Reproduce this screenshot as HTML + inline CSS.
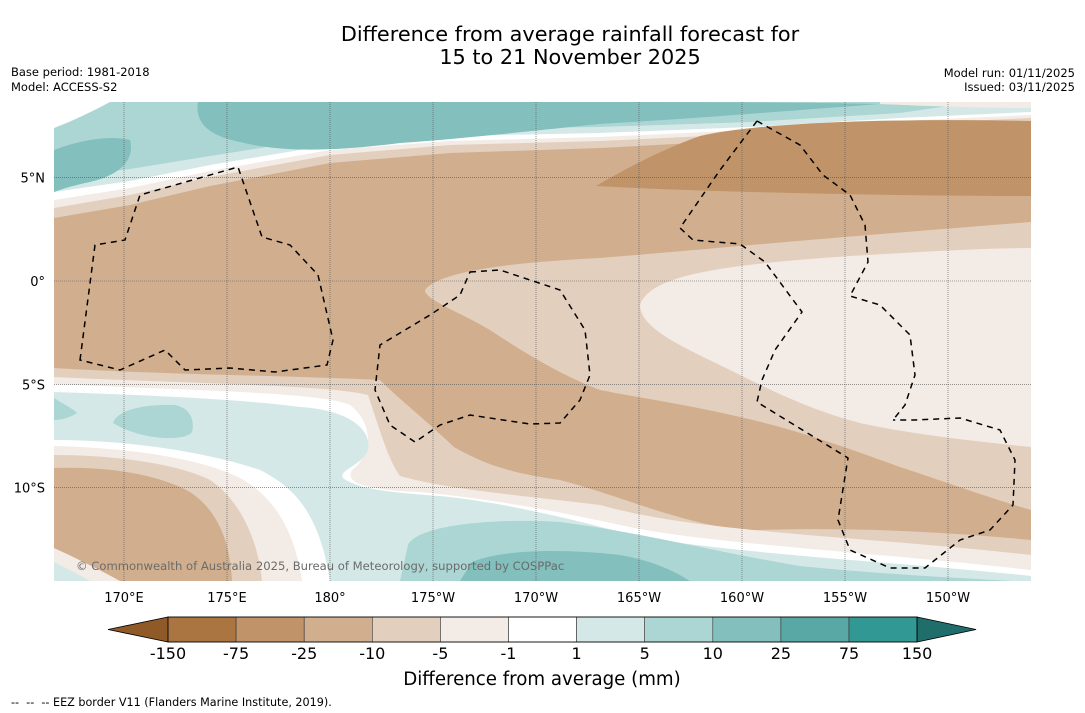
<!DOCTYPE html>
<html><head><meta charset="utf-8">
<style>
body{margin:0;background:#fff;}
svg{display:block;font-family:"DejaVu Sans","Liberation Sans",sans-serif;}
</style></head>
<body>
<svg id="chart" width="1085" height="713" viewBox="0 0 1085 713" xmlns="http://www.w3.org/2000/svg">
<rect width="1085" height="713" fill="#fff"/>
<text x="570" y="41" font-size="20.8" text-anchor="middle">Difference from average rainfall forecast for</text>
<text x="570" y="64" font-size="20.8" text-anchor="middle">15 to 21 November 2025</text>
<text x="11" y="76" font-size="11.5">Base period: 1981-2018</text>
<text x="11" y="91" font-size="11.5">Model: ACCESS-S2</text>
<text x="1075" y="77" font-size="11.5" text-anchor="end">Model run: 01/11/2025</text>
<text x="1075" y="91" font-size="11.5" text-anchor="end">Issued: 03/11/2025</text>
<defs><clipPath id="mapclip"><rect x="54" y="102" width="977" height="479"/></clipPath></defs>
<g id="map" clip-path="url(#mapclip)">
<rect x="54" y="102" width="977" height="479" fill="#d1af8e"/>
<g id="topbands"></g>
<path fill="#c09468" d="M596,186 C620,172 660,150 700,136 C760,122 900,118 1031,121 L1031,196 C900,196 700,192 596,186 Z"/>
<path fill="#e3cfbe" d="M425,290 C440,270 520,262 600,258 C700,250 800,240 1031,222 L1031,510 C980,495 940,480 900,467 C840,445 790,428 740,417 C690,405 640,398 600,390 C560,375 520,350 490,330 C460,312 425,300 425,290 Z"/>
<path fill="#f3ebe5" d="M640,305 C650,275 720,265 850,256 C950,250 1000,248 1031,248 L1031,447 C960,440 900,432 860,423 C810,410 770,390 730,370 C690,350 640,330 640,305 Z"/>
<path fill="#e3cfbe" d="M54,368 C150,374 300,376 380,380 C400,400 420,415 454,447 C490,468 520,474 560,480 C620,495 700,532 760,530 C850,527 950,532 1031,540 L1031,581 L54,581Z"/>
<path fill="#f3ebe5" d="M54,377 C200,384 330,385 368,395 C380,430 388,460 400,476 C450,490 520,495 600,505 C700,533 850,535 1031,555 L1031,581 L54,581 Z"/>
<path fill="#ffffff" d="M54,384 C200,391 320,392 350,405 C375,425 372,455 352,470 C345,482 362,490 420,492 C500,500 560,512 620,525 C700,543 850,550 1031,570 L1031,581 L54,581Z"/>
<path fill="#d4e9e7" d="M54,392 C150,395 250,400 300,407 C350,410 372,430 368,450 C363,465 338,470 343,478 C358,490 400,493 440,496 C500,502 560,516 640,537 C750,555 900,562 1031,576 L1031,581 L54,581Z"/>
<path fill="#abd6d4" d="M408,545 C418,524 500,518 560,522 C640,532 720,553 800,566 C900,576 1000,580 1031,582 L1031,581 L400,581Z"/>
<path fill="#abd6d4" d="M113,423 C118,408 150,404 175,405 C190,408 195,420 192,432 C185,442 140,440 113,423Z"/>
<path fill="#abd6d4" d="M54,398 C65,405 75,410 77,413 C70,418 60,420 54,420Z"/>
<path fill="#82bfbd" d="M472,562 C500,550 560,548 620,555 C660,562 680,575 690,581 L460,581Z"/>
<path fill="#ffffff" d="M54,440 C120,440 200,450 260,470 C300,490 320,520 330,581 L54,581Z"/>
<path fill="#f3ebe5" d="M54,446 C130,448 200,458 240,478 C280,500 296,540 302,581 L54,581Z"/>
<path fill="#e3cfbe" d="M54,455 C120,455 180,465 210,480 C240,500 258,540 262,581 L54,581Z"/>
<path fill="#d1af8e" d="M54,468 C110,466 160,475 190,492 C220,512 230,545 232,581 L54,581Z"/>
<path fill="#f3ebe5" d="M54,548 C80,560 100,570 120,581 L54,581Z"/>
<path fill="#d4e9e7" d="M54,562 C70,570 80,575 90,581 L54,581Z"/>
<g id="gridlines"></g>
<g fill="none" stroke="#000" stroke-width="1.5" stroke-dasharray="6,5">
<path d="M80,360 L95,245 L125,240 L140,195 L238,167 L262,237 L290,245 L318,275 L333,340 L327,365 L275,372 L230,368 L185,370 L165,350 L120,370 Z"/>
<path d="M470,272 L500,270 L560,290 L585,330 L590,375 L580,400 L560,423 L530,424 L470,415 L440,425 L415,442 L390,425 L375,390 L380,345 L430,315 L460,295 Z"/>
<path d="M757,121 L800,145 L823,175 L850,195 L865,225 L868,262 L850,296 L880,305 L910,335 L915,375 L905,405 L893,420 M757,121 L720,170 L680,228 L693,240 L740,244 L765,262 L802,312 L775,350 L762,380 L757,402 L848,458 L838,520 L850,550 L890,568 L925,568 L960,540 L990,530 L1013,505 L1015,460 L1000,430 L960,418 L915,420 L893,420"/>
</g>
<text x="76" y="570" font-size="11.6" fill="#6b6b6b">© Commonwealth of Australia 2025, Bureau of Meteorology, supported by COSPPac</text>
</g>
<g id="xaxis"></g>
<g id="yaxis"></g>
<g id="colorbar"></g>
<text x="542" y="685" font-size="18.2" text-anchor="middle">Difference from average (mm)</text>
<text x="11" y="706" font-size="11.2" style="white-space:pre" xml:space="preserve">--  --  -- EEZ border V11 (Flanders Marine Institute, 2019).</text>
</svg>
<script>
// Colorbar data
const cbLevels = ["-150","-75","-25","-10","-5","-1","1","5","10","25","75","150"];
const cbColors = ["#ab7541","#c09468","#d1af8e","#e3cfbe","#f3ebe5","#ffffff","#d4e9e7","#abd6d4","#82bfbd","#5aa8a6","#329894"];
const cbUnder = "#8f5a28";
const cbOver = "#1f6e6c";
// Axis data
const lonTicks = [170,175,180,-175,-170,-165,-160,-155,-150];
const lonLabels = ["170°E","175°E","180°","175°W","170°W","165°W","160°W","155°W","150°W"];
const latTicks = [5,0,-5,-10];
const latLabels = ["5°N","0°","5°S","10°S"];
// Top band boundary (brown edge) sampled
const bandX = [54,130,210,330,450,600,750,900,1031];
const bandY = [218,205,186,163,153,148,140,130,124];

const NS="http://www.w3.org/2000/svg";
function el(t,a,p){const e=document.createElementNS(NS,t);for(const k in a)e.setAttribute(k,a[k]);p.appendChild(e);return e;}
function xLon(l){const e=l<0?360+l:l;return 124+(e-170)*20.6;}
function yLat(l){return 281-l*20.66;}

const tb=document.getElementById('topbands');
const offsets=[[0,0,0,0,0,0,0,0,0],[10,10,9,8,8,7,6,6,6],[18,17,15,13,12,11,10,9,9],[26,24,21,18,17,15,13,12,12],[40,36,30,26,24,21,18,17,30]];
const tcol=["#e3cfbe","#f3ebe5","#ffffff","#d4e9e7","#abd6d4"];
offsets.forEach((o,i)=>{
  let d="M54,102 L"+bandX.map((x,j)=>x+","+(bandY[j]-o[j])).join(" L")+" L1031,102 Z";
  const p=el('path',{d:d,fill:tcol[i]},tb);
  
  
});
const b1=el('path',{d:"M198,102 L560,102 C640,102 800,102 880,104 C800,110 700,118 600,124 C520,132 470,138 400,143 C330,152 280,152 240,142 C205,135 195,120 198,102Z",fill:"#82bfbd"},tb);


const b2=el('path',{d:"M54,150 C80,140 110,135 130,140 C135,160 120,175 90,182 C70,186 60,190 54,192Z",fill:"#82bfbd"},tb);


const b3=el('path',{d:"M54,102 L110,102 C95,110 75,120 54,128Z",fill:"#ffffff"},tb);


const b4=el('path',{d:"M880,102 L1031,102 L1031,108 C980,108 920,106 880,104Z",fill:"#f3ebe5"},tb);



const gl=document.getElementById('gridlines');
lonTicks.forEach(l=>{const x=xLon(l);
  const g=el('line',{x1:x,x2:x,y1:102,y2:581,stroke:'#555','stroke-width':0.6,'stroke-dasharray':'1,1'},gl);
  
  });
latTicks.forEach(l=>{const y=yLat(l);
  const g=el('line',{x1:54,x2:1031,y1:y,y2:y,stroke:'#555','stroke-width':0.6,'stroke-dasharray':'1,1'},gl);
  
  });
const xa=document.getElementById('xaxis');
lonTicks.forEach((l,i)=>{const t=el('text',{x:xLon(l),y:602,'font-size':13,'text-anchor':'middle'},xa);t.textContent=lonLabels[i];
  
  });
const ya=document.getElementById('yaxis');
latTicks.forEach((l,i)=>{const t=el('text',{x:45,y:yLat(l)+5,'font-size':13,'text-anchor':'end'},ya);t.textContent=latLabels[i];
  
  });

const cb=document.getElementById('colorbar');
const cx0=168,cw=68.1,cy=617,ch=25;
const u=el('polygon',{points:`108,${cy+ch/2} ${cx0},${cy} ${cx0},${cy+ch}`,fill:cbUnder,stroke:'#000','stroke-width':0.8},cb);


cbColors.forEach((c,i)=>{const r=el('rect',{x:cx0+i*cw,y:cy,width:cw,height:ch,fill:c,stroke:'#333','stroke-width':0.6},cb);
  
  });
const xe=cx0+cbColors.length*cw;
const o=el('polygon',{points:`${xe},${cy} ${xe+59},${cy+ch/2} ${xe},${cy+ch}`,fill:cbOver,stroke:'#000','stroke-width':0.8},cb);


const fr=el('rect',{x:cx0,y:cy,width:xe-cx0,height:ch,fill:'none',stroke:'#000','stroke-width':0.8},cb);


cbLevels.forEach((lv,i)=>{const t=el('text',{x:cx0+i*cw,y:659,'font-size':16,'text-anchor':'middle'},cb);t.textContent=lv;
  
  });
</script>
</body></html>
